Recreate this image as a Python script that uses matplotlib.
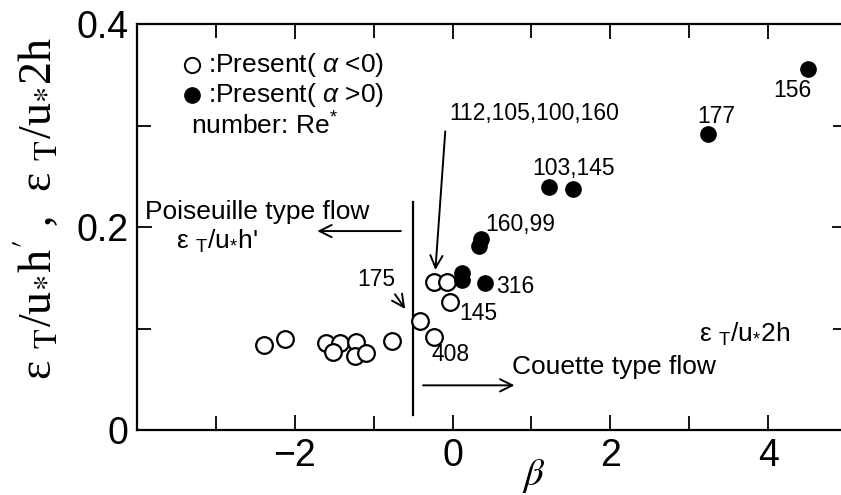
import matplotlib
matplotlib.use("Agg")
import matplotlib.pyplot as plt
from matplotlib.ticker import MultipleLocator, FixedLocator

plt.rcParams['font.family'] = ['Liberation Sans', 'DejaVu Sans']
plt.rcParams['mathtext.fontset'] = 'custom'
plt.rcParams['mathtext.rm'] = 'Liberation Sans'
plt.rcParams['mathtext.it'] = 'Liberation Sans:italic'
plt.rcParams['mathtext.sf'] = 'Liberation Sans'

# open circles: alpha < 0
beta_neg = [-2.39, -2.12, -1.60, -1.43, -1.51, -1.22, -1.24, -1.10, -0.77,
            -0.41, -0.24, -0.24, -0.07, -0.03]
eps_neg = [0.084, 0.090, 0.086, 0.086, 0.077, 0.087, 0.073, 0.076, 0.088,
           0.107, 0.092, 0.146, 0.146, 0.126]

# filled circles: alpha > 0
beta_pos = [0.12, 0.12, 0.41, 0.33, 0.36, 1.22, 1.53, 3.24, 4.50]
eps_pos = [0.155, 0.148, 0.145, 0.181, 0.188, 0.239, 0.237, 0.292, 0.356]

# Re* labels next to the points
re_labels = ['156', '177', '103,145', '160,99', '316', '145', '408']
re_x = [4.31, 3.34, 1.54, 0.41, 0.55, 0.08, -0.03]
re_y = [0.334, 0.309, 0.258, 0.202, 0.141, 0.115, 0.074]
re_ha = ['center', 'center', 'center', 'left', 'left', 'left', 'center']

W, H = 841, 495
fig = plt.figure(figsize=(W / 100, H / 100), dpi=100)
ax = fig.add_axes([137 / W, 65 / H, (847 - 137) / W, (430 - 24) / H])

ax.plot(beta_neg, eps_neg, 'o', ms=12, mfc='white', mec='black', mew=1.6, zorder=3)
ax.plot(beta_pos, eps_pos, 'o', ms=11, mfc='black', mec='black', zorder=3)

ax.set_xlim(-4, 5)
ax.set_ylim(0, 0.4)

# boundary between Poiseuille and Couette type flow
ax.plot([-0.5, -0.5], [0.015, 0.225], color='black', lw=1.6)

fs = 19
for s, x, y, ha in zip(re_labels, re_x, re_y, re_ha):
    ax.text(x, y, s, fontsize=16.5, ha=ha, va='center')
ax.text(1.03, 0.312, '112,105,100,160', fontsize=16.5, ha='center', va='center')
ax.text(-0.73, 0.148, '175', fontsize=16.5, ha='right', va='center')

arrow = dict(arrowstyle='->', color='black', lw=1.4, mutation_scale=22)
ax.annotate('', xy=(-0.22, 0.155), xytext=(-0.09, 0.297), arrowprops=arrow)
ax.annotate('', xy=(-0.58, 0.117), xytext=(-0.75, 0.136), arrowprops=arrow)
ax.annotate('', xy=(-1.75, 0.196), xytext=(-0.62, 0.196), arrowprops=arrow)
ax.annotate('', xy=(0.82, 0.044), xytext=(-0.41, 0.044), arrowprops=arrow)

ax.text(-3.90, 0.215, 'Poiseuille type flow', fontsize=fs, ha='left', va='center')
ax.text(-3.51, 0.186, r"ε $_{\mathrm{T}}$/u$_{*}$h'", fontsize=fs, ha='left', va='center')
ax.text(0.75, 0.062, 'Couette type flow', fontsize=fs, ha='left', va='center')
ax.text(3.13, 0.094, r'ε $_{\mathrm{T}}$/u$_{*}$2h', fontsize=fs, ha='left', va='center')

# key in the upper left corner
ax.plot([-3.30], [0.360], 'o', ms=11, mfc='white', mec='black', mew=1.4)
ax.plot([-3.30], [0.330], 'o', ms=11, mfc='black', mec='black')
ax.text(-3.10, 0.360, r':Present( $\alpha$ <0)', fontsize=fs, ha='left', va='center')
ax.text(-3.10, 0.330, r':Present( $\alpha$ >0)', fontsize=fs, ha='left', va='center')
ax.text(-3.32, 0.300, r'number: Re$^{*}$', fontsize=fs, ha='left', va='center')

ax.xaxis.set_major_locator(FixedLocator([-2, 0, 2, 4]))
ax.xaxis.set_minor_locator(MultipleLocator(1))
ax.set_xticklabels(['\u22122', '0', '2', '4'])
ax.yaxis.set_major_locator(FixedLocator([0, 0.2, 0.4]))
ax.yaxis.set_minor_locator(MultipleLocator(0.1))
ax.set_yticklabels(['0', '0.2', '0.4'])
ax.tick_params(which='both', direction='in', top=True, right=True, width=1.3,
               labelsize=27, pad=6)
ax.tick_params(which='major', length=11)
ax.tick_params(which='minor', length=10)
for sp in ax.spines.values():
    sp.set_linewidth(1.6)

# y label in an upright serif face, x label as an italic beta
ylab = ("ε $_{\\mathrm{T}}$/u$_{*}$h$^{\\prime}$ ,  "
        "ε $_{\\mathrm{T}}$/u$_{*}$2h")
ax.text(-0.141, 0.547, ylab, transform=ax.transAxes, rotation=90,
        ha='center', va='center', fontsize=33,
        family=['Liberation Serif', 'DejaVu Serif'], math_fontfamily='stix')
ax.text(1.03, -0.045, r'$\beta$', fontsize=28, math_fontfamily='stix',
        ha='center', va='center')

fig.savefig('out.png', dpi=100)
